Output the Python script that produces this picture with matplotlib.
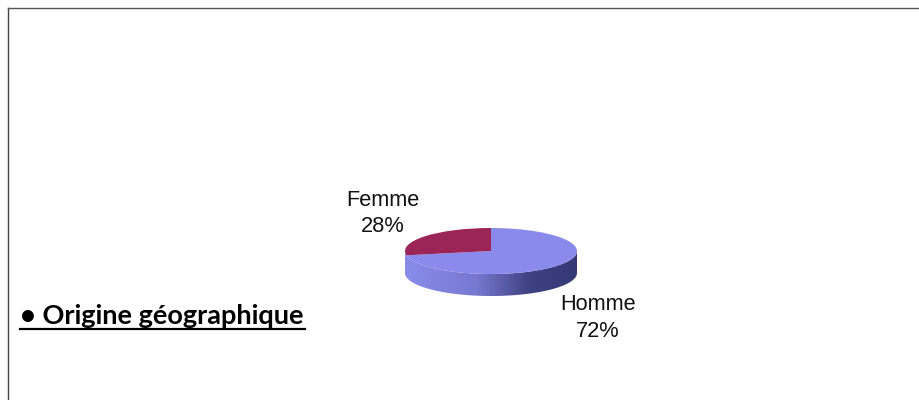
import numpy as np
import matplotlib
matplotlib.use("Agg")
import matplotlib.pyplot as plt
from matplotlib.colors import LinearSegmentedColormap
from matplotlib.lines import Line2D
from matplotlib.patches import Polygon

labels = ["Homme", "Femme"]
values = [72, 28]
colors = ["#8a8aec", "#9c2558"]
heading = "• Origine géographique"

W, H = 920, 400
RX, RY, DEPTH = 86, 23, 22  # ellipse du camembert en pixels
CX, CY = 491, 251


def px_x(x):
    return x / W


def px_y(y):
    return 1 - y / H


fig = plt.figure(figsize=(W / 100, H / 100), dpi=100, facecolor="white")

# cadre de la page scannee (haut et gauche seulement)
fig.add_artist(Line2D([px_x(8), px_x(8)], [px_y(8), 0], color="#444444", lw=1.0))
fig.add_artist(Line2D([px_x(8), 1], [px_y(8), px_y(8)], color="#555555", lw=1.0))

# axes : 1 unite = le rayon de l'ellipse
ax_w, ax_h = 2 * RX + 4, 2 * RY + DEPTH + 4
ax = fig.add_axes([px_x(CX - ax_w / 2), px_y(CY + RY + DEPTH + 2), ax_w / W, ax_h / H])

depth = DEPTH / RY
t = np.radians(np.linspace(180, 360, 200))
xs = np.cos(t)
ys = np.sin(t)
side = np.vstack([np.column_stack([xs, ys]),
                  np.column_stack([xs[::-1], ys[::-1] - depth])])

grad = LinearSegmentedColormap.from_list(
    "side", [(0, "#8a8cea"), (0.42, "#7678d0"), (0.72, "#3f4282"), (1, "#343874")])
img = ax.imshow(np.linspace(0, 1, 256)[None, :], cmap=grad, aspect="auto",
                extent=(-1, 1, -1 - depth, 1), zorder=1)
clip = Polygon(side, closed=True, transform=ax.transData, fc="none", ec="none")
ax.add_patch(clip)
img.set_clip_path(clip)

wedges, _ = ax.pie(values, colors=colors, startangle=90, counterclock=False, radius=1,
                   wedgeprops={"linewidth": 0, "zorder": 2})
ax.set_aspect("auto")
ax.set_xlim(-ax_w / 2 / RX, ax_w / 2 / RX)
ax.set_ylim(-1 - depth - 2 / RY, 1 + 2 / RY)
ax.axis("off")

# etiquettes
font = ["Liberation Sans", "DejaVu Sans"]
fig.text(px_x(598), px_y(318), f"{labels[0]}\n{values[0]}%", ha="center", va="center",
         fontsize=15.7, family=font, color="#111111", linespacing=1.33)
fig.text(px_x(383), px_y(213.5), f"{labels[1]}\n{values[1]}%", ha="center", va="center",
         fontsize=15.7, family=font, color="#111111", linespacing=1.33)

fig.text(px_x(20), px_y(324), heading, ha="left", va="baseline", fontsize=19.5,
         family=["Lato", "DejaVu Sans"], fontweight="bold", color="black")
fig.add_artist(Line2D([px_x(20), px_x(305)], [px_y(329), px_y(329)], color="black", lw=1.6))

fig.savefig("out.png", dpi=100)
